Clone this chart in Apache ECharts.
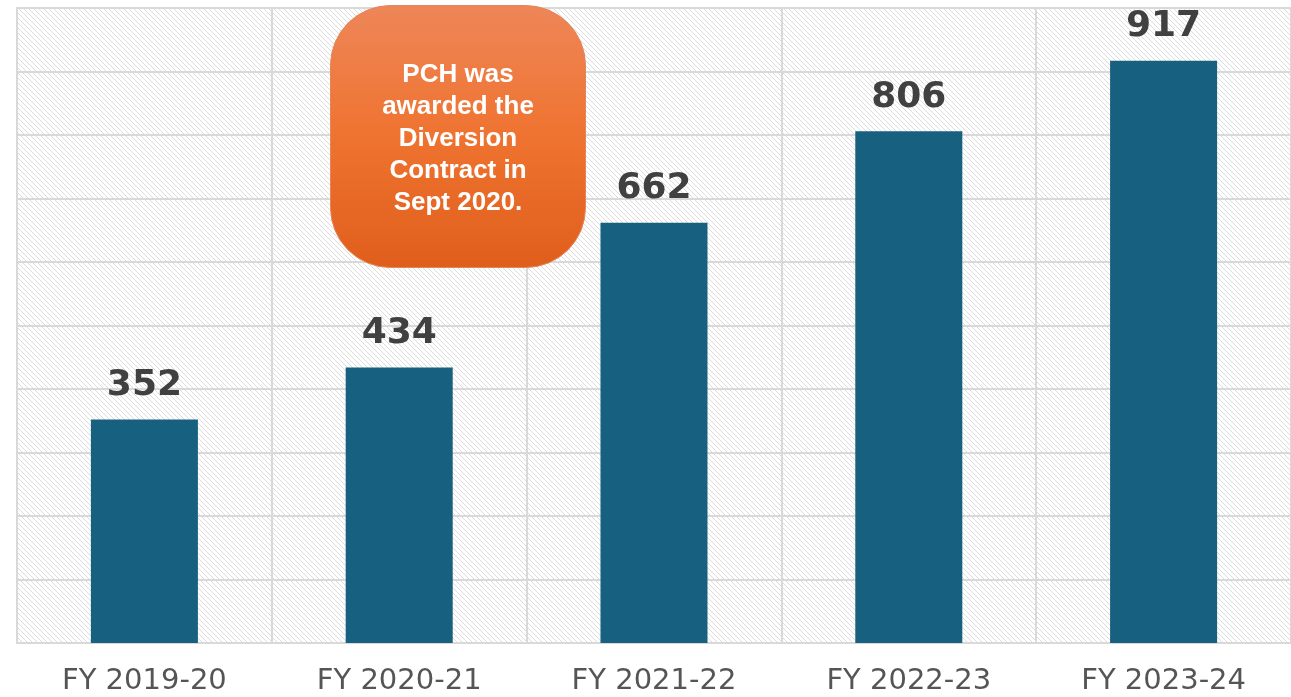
<!DOCTYPE html>
<html>
<head>
<meta charset="utf-8">
<script src="https://cdn.jsdelivr.net/npm/echarts@6/dist/echarts.min.js"></script>
<style>
html,body{margin:0;padding:0;background:#fff;}
#c{width:1291px;height:697px;}
</style>
</head>
<body>
<div id="c"></div>
<script>
var categories = ['FY 2019-20', 'FY 2020-21', 'FY 2021-22', 'FY 2022-23', 'FY 2023-24'];
var values = [352, 434, 662, 806, 917];
var calloutLines = ['PCH was', 'awarded the', 'Diversion', 'Contract in', 'Sept 2020.'];

// diagonal hatch pattern
var tile = document.createElement('canvas');
tile.width = 5; tile.height = 5;
var tctx = tile.getContext('2d');
tctx.fillStyle = '#ffffff';
tctx.fillRect(0, 0, 5, 5);
tctx.fillStyle = '#dcdcdc';
for (var i = 0; i < 5; i++) { tctx.fillRect(i, i, 1, 1); }

var chart = echarts.init(document.getElementById('c'));
var option = {
  animation: false,
  backgroundColor: '#ffffff',
  grid: {
    left: 17, top: 8, width: 1275, height: 635,
    show: true,
    backgroundColor: { image: tile, repeat: 'repeat' },
    borderWidth: 0
  },
  xAxis: {
    type: 'category',
    data: categories,
    axisTick: { show: false },
    axisLine: { show: true, lineStyle: { color: '#d9d9d9', width: 2 } },
    splitLine: { show: true, lineStyle: { color: '#d9d9d9', width: 2 } },
    axisLabel: {
      margin: 24,
      fontFamily: 'DejaVu Sans',
      fontSize: 29,
      color: '#555555'
    }
  },
  yAxis: {
    type: 'value',
    min: 0, max: 1000, interval: 100,
    axisLabel: { show: false },
    axisTick: { show: false },
    axisLine: { show: true, lineStyle: { color: '#d9d9d9', width: 2 } },
    splitLine: { show: true, lineStyle: { color: '#d9d9d9', width: 2 } }
  },
  series: [{
    type: 'bar',
    data: values,
    barWidth: '42%',
    itemStyle: { color: '#17607f' },
    label: {
      show: true,
      position: 'top',
      distance: 16,
      fontFamily: 'DejaVu Sans',
      fontWeight: 'bold',
      fontSize: 36,
      color: '#404040'
    }
  }],
  graphic: [{
    type: 'group',
    left: 330, top: 5,
    z: 100,
    children: [{
      type: 'rect',
      z: 100,
      shape: { x: 0, y: 0, width: 255, height: 262, r: 60 },
      style: {
        fill: new echarts.graphic.LinearGradient(0, 0, 0, 1, [
          { offset: 0, color: '#ee8658' },
          { offset: 0.5, color: '#ef7330' },
          { offset: 1, color: '#e05e1c' }
        ]),
        stroke: '#e3865a',
        lineWidth: 1
      }
    }, {
      type: 'text',
      z: 101,
      style: {
        x: 127.5, y: 133,
        text: calloutLines.join('\n'),
        align: 'center',
        verticalAlign: 'middle',
        fill: '#ffffff',
        font: 'bold 26px "Liberation Sans", Arial, sans-serif',
        lineHeight: 32
      }
    }]
  }]
};
chart.setOption(option);
</script>
</body>
</html>
